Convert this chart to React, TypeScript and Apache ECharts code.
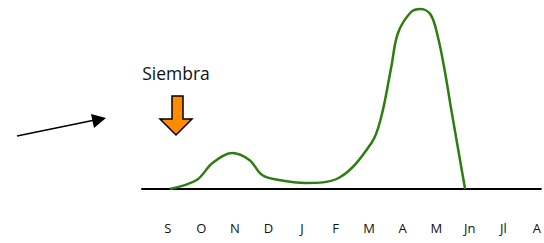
import React, { useEffect, useRef } from "react";
import * as echarts from "echarts";

const months = ["S", "O", "N", "D", "J", "F", "M", "A", "M", "Jn", "Jl", "A"];
// position along the season (month index) and relative level
const curveX = [0.06, 0.86, 1.33, 1.92, 2.43, 2.81, 3.31, 4.11, 5.09, 6.07, 6.36, 6.66, 6.86, 7.25, 7.54, 7.84, 8.05, 8.25, 8.45, 8.86];
const curveY = [0, 9, 26, 36, 29, 14, 9, 6, 11, 46, 72, 122, 156, 177, 180, 174, 152, 119, 79, 0];
const annotation = "Siembra";

export default function App() {
  const ref = useRef<HTMLDivElement>(null);
  useEffect(() => {
    document.body.style.margin = "0";
    const chart = echarts.init(ref.current!, null, { renderer: "svg" });
    const data = curveX.map((x, i) => [x, curveY[i]]);
    chart.setOption({
      animation: false,
      grid: { left: 142, right: 0, top: 0, bottom: 54, containLabel: false },
      xAxis: {
        type: "value",
        min: -0.77,
        max: 11.12,
        splitLine: { show: false },
        axisLine: { show: true, onZero: false, lineStyle: { color: "#000", width: 2 } },
        axisTick: { show: false },
        axisLabel: {
          customValues: months.map((_, i) => i),
          formatter: (v: number) => months[Math.round(v)] ?? "",
          margin: 32,
          color: "#111",
          fontSize: 13,
          fontFamily: "Open Sans",
          showMinLabel: true,
          showMaxLabel: true,
        },
      },
      yAxis: { type: "value", min: 0, max: 189, show: false },
      series: [
        {
          type: "line",
          data,
          smooth: 0.35,
          symbol: "none",
          lineStyle: { color: "#2E7D11", width: 2.5 },
        },
      ],
      graphic: [
        {
          type: "line",
          shape: { x1: 17, y1: 136, x2: 95, y2: 120 },
          style: { stroke: "#000", lineWidth: 1.6 },
        },
        {
          type: "polygon",
          shape: { points: [[106, 118], [91, 114], [94, 128]] },
          style: { fill: "#000" },
        },
        {
          type: "text",
          x: 176,
          y: 73,
          style: {
            text: annotation,
            fontSize: 17.5,
            fontFamily: "Open Sans",
            fill: "#111",
            align: "center",
            verticalAlign: "middle",
          },
        },
        {
          type: "polygon",
          shape: {
            points: [[172, 96], [183, 96], [183, 119], [192, 119], [176, 135], [160, 119], [172, 119]],
          },
          style: { fill: "#FF8C00", stroke: "#000", lineWidth: 1.5 },
        },
      ],
    });
    return () => chart.dispose();
  }, []);
  return <div ref={ref} style={{ width: 544, height: 243 }} />;
}
